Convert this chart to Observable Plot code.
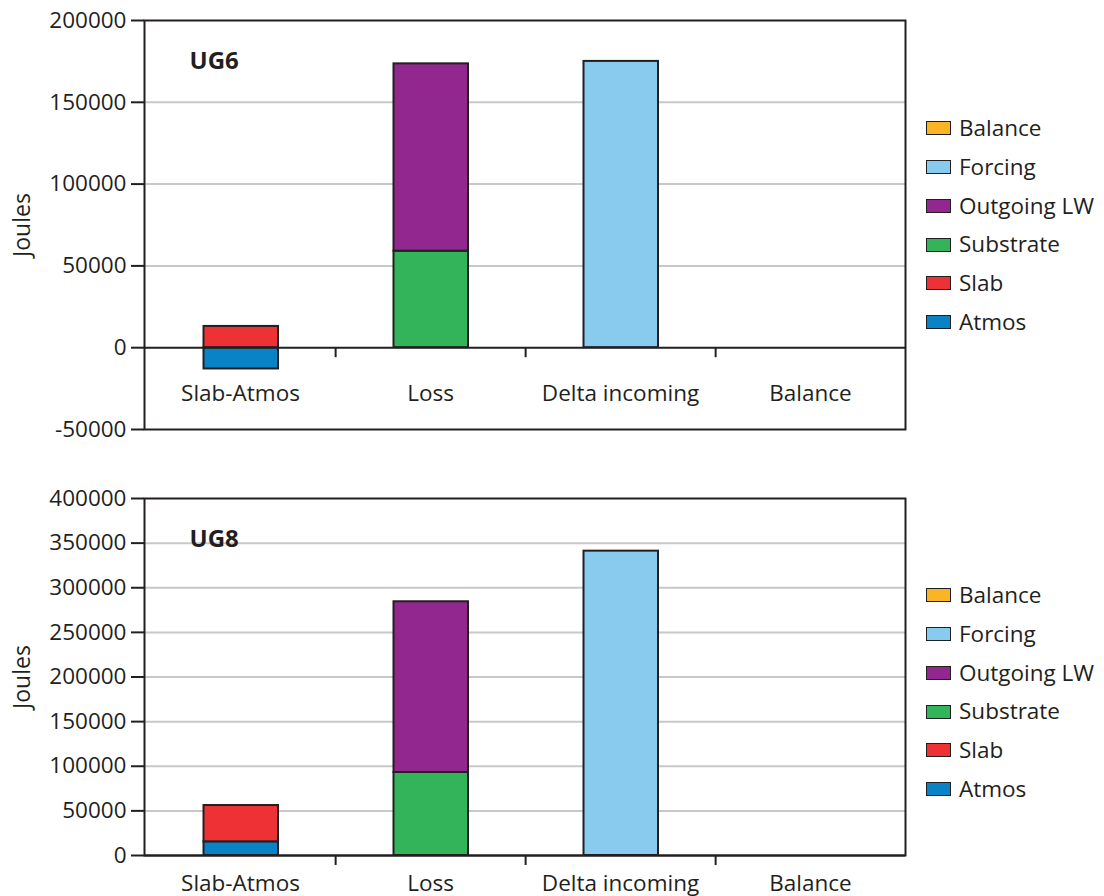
<!DOCTYPE html>
<html>
<head>
<meta charset="utf-8">
<script src="https://cdn.jsdelivr.net/npm/d3@7"></script>
<script src="https://cdn.jsdelivr.net/npm/@observablehq/plot@0.6"></script>
<style>
  html, body { margin: 0; padding: 0; background: #fff; }
  #chart { position: relative; width: 1104px; height: 896px; overflow: hidden; font-family: "Open Sans", sans-serif; color: #231f20; }
  .panel { position: absolute; left: 0; }
  .legend { position: absolute; left: 926px; }
  .legend .row { position: absolute; left: 0; display: flex; align-items: center; white-space: nowrap; font-size: 22.5px; line-height: 1; }
  .legend .sw { width: 23px; height: 12px; border: 1.5px solid #231f20; margin-right: 8px; }
</style>
</head>
<body>
<div id="chart"></div>
<script>
// Energy budget categories along the x axis
const categories = ["Slab-Atmos", "Loss", "Delta incoming", "Balance"];

// Components stacked in each bar (bottom to top) and their colours
const components = ["Atmos", "Slab", "Substrate", "Outgoing LW", "Forcing", "Balance"];
const colors = ["#0a82c6", "#ee3135", "#33b35a", "#92278f", "#89cbef", "#fbb424"];
// Which category each component belongs to
const componentCategory = ["Slab-Atmos", "Slab-Atmos", "Loss", "Loss", "Delta incoming", "Balance"];

// Values in Joules, one per component
const ug6Values = [-13000, 13000, 59000, 114500, 175000, 0];
const ug8Values = [15300, 40700, 93000, 191300, 341000, 0];

// Axis ticks
const ug6Ticks = [-50000, 0, 50000, 100000, 150000, 200000];
const ug8Ticks = [0, 50000, 100000, 150000, 200000, 250000, 300000, 350000, 400000];

const ink = "#231f20";
const font = "Open Sans";
const W = 1104, ML = 144, MR = 199;
const bandWidth = (W - ML - MR) / categories.length;

function rowsFor(values) {
  return components.map((c, i) => ({component: c, category: componentCategory[i], value: values[i]}));
}

function panel({label, values, ticks, height, marginTop, marginBottom, labelDy}) {
  const domain = [ticks[0], ticks[ticks.length - 1]];
  const inner = ticks.filter(t => t !== 0 && t !== domain[0] && t !== domain[1]);
  return Plot.plot({
    width: W,
    height,
    marginLeft: ML,
    marginRight: MR,
    marginTop,
    marginBottom,
    style: {fontFamily: font, fontSize: "22.5px", color: ink, background: "transparent", overflow: "visible"},
    x: {type: "band", domain: categories, padding: 0, axis: null},
    y: {domain, axis: null},
    color: {domain: components, range: colors},
    marks: [
      Plot.gridY(inner, {stroke: "#c8c8c8", strokeOpacity: 1, strokeWidth: 2}),
      Plot.barY(rowsFor(values), Plot.stackY({
        x: "category", y: "value", fill: "component",
        stroke: ink, strokeWidth: 2, insetLeft: 58.5, insetRight: 57
      })),
      Plot.ruleY([0], {stroke: ink, strokeWidth: 2}),
      // separator ticks between categories, hanging below the zero line
      Plot.ruleX(categories.slice(0, -1), {
        x: d => d, y1: () => 0, y2: () => 0, dx: bandWidth / 2,
        insetBottom: -10, stroke: ink, strokeWidth: 2
      }),
      Plot.text(categories, {x: d => d, y: () => 0, dy: labelDy, text: d => d, fontSize: 22.5, fill: ink, lineAnchor: "middle"}),
      Plot.frame({stroke: ink, strokeWidth: 2}),
      Plot.axisY(ticks, {
        tickSize: 13, tickPadding: 5, tickFormat: d => String(d), label: null,
        stroke: ink, strokeWidth: 2, fontSize: 22.5, fill: ink
      }),
      Plot.text(["Joules"], {frameAnchor: "left", dx: -122, rotate: -90, text: d => d, fontSize: 23, fill: ink, textAnchor: "middle", lineAnchor: "middle"}),
      Plot.text([label], {frameAnchor: "top-left", dx: 45, dy: 41, text: d => d, fontSize: 24, fontWeight: "bold", fill: ink, textAnchor: "start", lineAnchor: "middle"})
    ]
  });
}

function legend(top) {
  const div = document.createElement("div");
  div.className = "legend";
  div.style.top = top + "px";
  // legend lists components top-down in reverse stacking order
  components.slice().reverse().forEach((c, i) => {
    const row = document.createElement("div");
    row.className = "row";
    row.style.top = (i * 38.8) + "px";
    const sw = document.createElement("span");
    sw.className = "sw";
    sw.style.background = colors[components.indexOf(c)];
    const tx = document.createElement("span");
    tx.textContent = c;
    row.appendChild(sw);
    row.appendChild(tx);
    div.appendChild(row);
  });
  return div;
}

const chart = document.getElementById("chart");

const top6 = panel({label: "UG6", values: ug6Values, ticks: ug6Ticks, height: 445, marginTop: 20, marginBottom: 16, labelDy: 46});
top6.classList.add("panel");
top6.style.top = "0px";
chart.appendChild(top6);

const bot8 = panel({label: "UG8", values: ug8Values, ticks: ug8Ticks, height: 451, marginTop: 53, marginBottom: 41, labelDy: 28});
bot8.classList.add("panel");
bot8.style.top = "445px";
chart.appendChild(bot8);

chart.appendChild(legend(117));
chart.appendChild(legend(584));
</script>
</body>
</html>
